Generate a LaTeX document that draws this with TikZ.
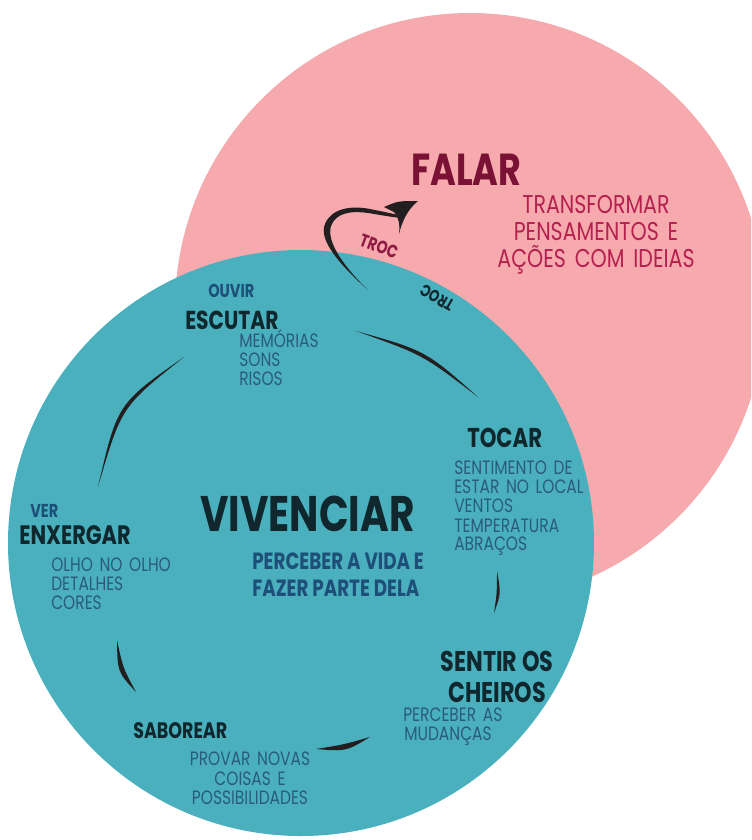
\documentclass[tikz,border=0pt]{standalone}
\usepackage{fontspec}
\newfontfamily\pop[FakeStretch=0.78]{Poppins}
\newfontfamily\popr[FakeStretch=0.8, WordSpace=1.6]{Poppins}
\definecolor{pinkc}{HTML}{F6AAAD}
\definecolor{tealc}{HTML}{4AB0BE}
\definecolor{darkc}{HTML}{0F272D}
\definecolor{bluec}{HTML}{1D4F78}
\definecolor{subc}{HTML}{2A5B7E}
\definecolor{falarc}{HTML}{7A1235}
\definecolor{pinksub}{HTML}{B5214F}
\definecolor{trocp}{HTML}{8E1B44}
\definecolor{strokec}{HTML}{231F20}
\begin{document}
\begin{tikzpicture}[x=0.75pt,y=-0.75pt,
  hd/.style={font=\pop\bfseries\fontsize{#1}{#1}\selectfont, inner sep=0pt, anchor=base west, text=darkc},
  sb/.style={font=\popr\fontsize{#1}{#1}\selectfont, inner sep=0pt, anchor=base west, text=subc},
  brush/.style={fill=strokec}]
\useasboundingbox (0,0) rectangle (751,840);
\clip (0,0) rectangle (751,840);
% circles
\fill[pinkc] (470,308) circle[radius=221.25pt];
\fill[tealc] (301,543) circle[radius=219.75pt];
% pink circle texts
\node[hd=33.6, text=falarc] (falar) at (411,185) {FALAR};
\node[sb=19.3, text=pinksub, anchor=base] (tr1) at (596,213) {TRANSFORMAR};
\node[sb=19.3, text=pinksub, anchor=base] (tr2) at (596,240) {PENSAMENTOS E};
\node[sb=19.3, text=pinksub, anchor=base] (tr3) at (596,267) {AÇÕES COM IDEIAS};
\node[hd=13.5, text=trocp, anchor=center, rotate=-20] (trocp) at (379,246) {TROC};
\node[hd=12.5, text=darkc, anchor=center, rotate=150] (trocd) at (437,298) {TROC};
% teal circle texts
\node[hd=14, text=bluec] (ouvir) at (208,297) {OUVIR};
\node[hd=19.5] (escutar) at (185,329) {ESCUTAR};
\node[sb=14.5] (mem1) at (239,347) {MEMÓRIAS};
\node[sb=14.5] (mem2) at (239,366) {SONS};
\node[sb=14.5] (mem3) at (239,385) {RISOS};
\node[hd=20.4] (tocar) at (467,447) {TOCAR};
\node[sb=14.5] (toc1) at (454,474) {SENTIMENTO DE};
\node[sb=14.5] (toc2) at (454,493) {ESTAR NO LOCAL};
\node[sb=14.5] (toc3) at (454,512) {VENTOS};
\node[sb=14.5] (toc4) at (454,532) {TEMPERATURA};
\node[sb=14.5] (toc5) at (454,550) {ABRAÇOS};
\node[hd=37.5] (viv) at (200,531) {VIVENCIAR};
\node[hd=17.6, text=bluec] (perc1) at (252,569) {PERCEBER A VIDA E};
\node[hd=17.6, text=bluec] (perc2) at (252,596) {FAZER PARTE DELA};
\node[hd=14, text=bluec] (ver) at (30,517) {VER};
\node[hd=20] (enx) at (19,544) {ENXERGAR};
\node[sb=14.5] (olho1) at (51,571) {OLHO NO OLHO};
\node[sb=14.5] (olho2) at (51,590) {DETALHES};
\node[sb=14.5] (olho3) at (51,609) {CORES};
\node[hd=21.4, anchor=base] (sent1) at (497,671) {SENTIR OS};
\node[hd=21.4, anchor=base] (sent2) at (497,702) {CHEIROS};
\node[sb=14.5] (mud1) at (403,721) {PERCEBER AS};
\node[sb=14.5] (mud2) at (404,740) {MUDANÇAS};
\node[hd=16.8] (sab) at (133,738) {SABOREAR};
\node[sb=14.5, anchor=base] (prov1) at (250,765) {PROVAR NOVAS};
\node[sb=14.5, anchor=base] (prov2) at (250,785) {COISAS E};
\node[sb=14.5, anchor=base] (prov3) at (250,804) {POSSIBILIDADES};
% brush strokes between the senses
\coordinate (s1a) at (356,331); \coordinate (s1b) at (478,397);
\fill[brush] (s1a) .. controls (425.6,350.6) .. (s1b) .. controls (422.9,354.8) .. (s1a);
\coordinate (s2a) at (497,571); \coordinate (s2b) at (494,613);
\fill[brush] (s2a) .. controls (501,593.5) .. (s2b) .. controls (497,592.5) .. (s2a);
\coordinate (s3a) at (370,737); \coordinate (s3b) at (316,749);
\fill[brush] (s3a) .. controls (346,751.5) .. (s3b) .. controls (344,744.5) .. (s3a);
\coordinate (s4a) at (117,640); \coordinate (s4b) at (136,692);
\fill[brush] (s4a) .. controls (117.5,672) .. (s4b) .. controls (123,668) .. (s4a);
\coordinate (s5a) at (98,487); \coordinate (s5b) at (184,357);
\fill[brush] (s5a) .. controls (117.3,403.7) .. (s5b) .. controls (121.3,406.8) .. (s5a);
% arrow towards FALAR
\coordinate (arA) at (368,290); \coordinate (arB) at (398,215);
\fill[brush] (arA) .. controls (340,265) and (318,240) .. (325,224)
  .. controls (331,209) and (350,205) .. (370,209)
  .. controls (380,211) and (390,213) .. (arB)
  -- (397,217.5) .. controls (388,216.5) and (378,214.5) .. (368,213)
  .. controls (350,210.5) and (336,213) .. (331,226)
  .. controls (326,242) and (345,268) .. (arA) -- cycle;
\fill[brush] (384,207) .. controls (398,201) .. (418,201)
  .. controls (407,210) and (402,222) .. (399,234)
  .. controls (400,224) and (399,218) .. (394,212) -- cycle;
\end{tikzpicture}
\end{document}
